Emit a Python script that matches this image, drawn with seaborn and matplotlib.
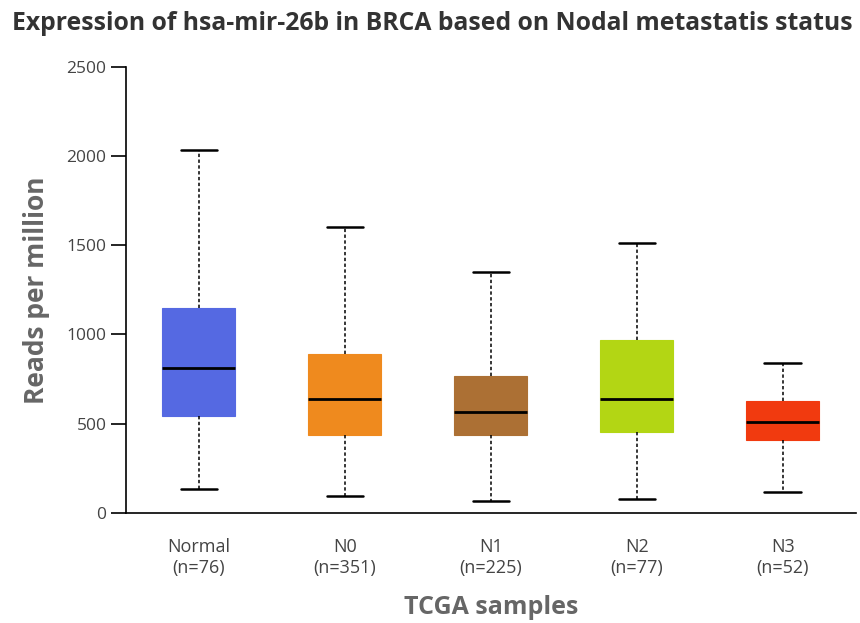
import numpy as np
import pandas as pd
import matplotlib
matplotlib.use("Agg")
import matplotlib.pyplot as plt
import seaborn as sns

# Five-number summaries (reads per million) for each sample group
groups = ["Normal", "N0", "N1", "N2", "N3"]
counts = [76, 351, 225, 77, 52]
whisker_low = [132, 93, 66, 76, 115]
q1 = [542, 437, 437, 454, 406]
median = [810, 639, 565, 638, 508]
q3 = [1149, 889, 767, 969, 626]
whisker_high = [2036, 1604, 1349, 1512, 842]
colors = ["#5569E2", "#EF8A1E", "#AC7034", "#B3D614", "#F13A0F"]

tick_labels = [f"{g}\n(n={n})" for g, n in zip(groups, counts)]

# Long-form table: each group's quartiles reproduce the summary exactly
rows = []
for lab, lo, a, m, b, hi in zip(tick_labels, whisker_low, q1, median, q3, whisker_high):
    for v in (lo, a, m, b, hi):
        rows.append({"group": lab, "rpm": v})
df = pd.DataFrame(rows)

sns.set_theme(style="white")
plt.rcParams["font.family"] = ["Open Sans", "DejaVu Sans"]

fig = plt.figure(figsize=(8.6, 6.23), dpi=100)
ax = fig.add_axes([0.1465, 0.177, 0.8485, 0.7155])

sns.boxplot(
    data=df, x="group", y="rpm", hue="group", order=tick_labels,
    palette=colors, legend=False, whis=np.inf, width=0.5, ax=ax,
    boxprops=dict(linewidth=0.8),
    whiskerprops=dict(color="black", linewidth=1.1, linestyle=(0, (2.2, 1.6))),
    capprops=dict(color="black", linewidth=1.8),
    medianprops=dict(color="black", linewidth=2.0),
)

for patch, c in zip(ax.patches, colors):
    patch.set_facecolor(c)
    patch.set_edgecolor(c)

ax.set_xlim(-0.5, 4.5)
ax.set_ylim(0, 2500)
ax.set_yticks([0, 500, 1000, 1500, 2000, 2500])

for side in ("top", "right"):
    ax.spines[side].set_visible(False)
for side in ("left", "bottom"):
    ax.spines[side].set_color("black")
    ax.spines[side].set_linewidth(1.2)

ax.tick_params(axis="y", which="major", left=True, length=11, width=1.2,
               color="black", labelsize=12.5, labelcolor="#444444", pad=3)
ax.tick_params(axis="x", bottom=False, labelsize=13, labelcolor="#444444", pad=12)
for t in ax.get_xticklabels():
    t.set_linespacing(1.2)

ax.set_xlabel("TCGA samples", fontsize=18, fontweight="bold", color="#666666", labelpad=13)
ax.set_ylabel("Reads per million", fontsize=19, fontweight="bold", color="#666666", labelpad=12)

fig.suptitle("Expression of hsa-mir-26b in BRCA based on Nodal metastatis status",
             x=0.503, y=0.982, fontsize=17.8, fontweight="bold", color="#333333")

fig.savefig("out.png", dpi=100, facecolor="white")
